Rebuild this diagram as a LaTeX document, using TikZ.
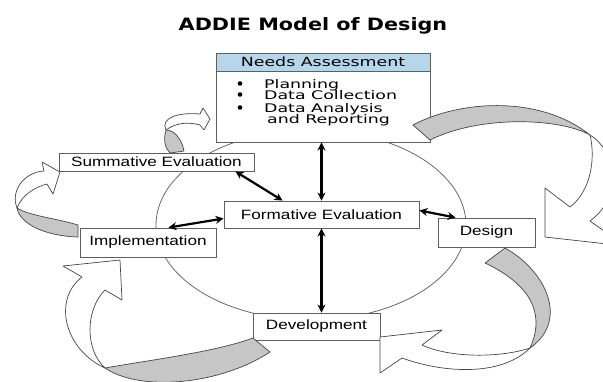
\documentclass[tikz,border=0pt]{standalone}
\usepackage{fontspec}
\usepackage{tikz}
\usetikzlibrary{arrows.meta, calc}
\newfontfamily\titlefont[FakeStretch=1.22]{DejaVu Sans}
\newfontfamily\needsfont[FakeStretch=1.38]{DejaVu Sans}
\newfontfamily\itemfont[FakeStretch=1.46]{DejaVu Sans}
\newfontfamily\stagefont[FakeStretch=1.27]{Liberation Sans}
\definecolor{boxline}{RGB}{95,95,95}
\definecolor{headblue}{RGB}{184,214,234}
\definecolor{foldgray}{RGB}{198,198,198}
\definecolor{edgegray}{RGB}{70,70,70}
\definecolor{ringgray}{RGB}{105,105,105}

\begin{document}
\begin{tikzpicture}[x=1pt, y=-1pt]
\tikzstyle{stage}=[draw=boxline, fill=white, line width=0.9pt, inner sep=0pt, font=\stagefont\fontsize{13.5}{16}\selectfont]
\tikzstyle{item}=[anchor=base west, inner sep=0pt, font=\itemfont\fontsize{11.9}{13}\selectfont]
\tikzstyle{link}=[{Stealth[length=8pt,width=8pt]}-{Stealth[length=8pt,width=8pt]}, line width=2.2pt]
\tikzstyle{fold}=[fill=foldgray, draw=edgegray, line width=0.7pt, line join=round]
\tikzstyle{face}=[fill=white, draw=edgegray, line width=0.7pt, line join=round]
\useasboundingbox (0,0) rectangle (603,381);
\clip (0,0) rectangle (603,381);

\node[font=\titlefont\bfseries\fontsize{17}{20}\selectfont] (title) at (313,26) {ADDIE Model of Design};

% cycle ring behind the stages
\draw[ringgray, line width=0.8pt] (311,225) ellipse [x radius=155pt, y radius=95pt];

% stages
\node[stage, minimum width=214pt, minimum height=89pt] (needs) at (323,97.5) {};
\node[stage, fill=headblue, minimum width=214pt, minimum height=18pt,
  font=\needsfont\fontsize{12.6}{14}\selectfont] (needshead) at (323,62) {Needs Assessment};
\foreach \y in {83.5,94.5,107.5} \fill (240,\y) circle [radius=2.3pt];
\node[item] (plan) at (264,88) {Planning};
\node[item] (collect) at (264,99) {Data Collection};
\node[item] (analysis) at (264,112) {Data Analysis};
\node[item] (report) at (267,123) {and Reporting};
\node[stage, minimum width=195pt, minimum height=18pt] (summative) at (156.5,162) {Summative Evaluation};
\node[stage, minimum width=195pt, minimum height=27pt] (formative) at (321.5,214.5) {Formative Evaluation};
\node[stage, minimum width=136pt, minimum height=29pt] (implementation) at (148,242.5) {Implementation};
\node[stage, minimum width=97pt, minimum height=29pt] (design) at (486.5,232.5) {Design};
\node[stage, minimum width=127pt, minimum height=27pt] (development) at (316.5,326.5) {Development};

% big curved arrows: grey fold at the tail, white face with the head
\draw[fold] (413,125) .. controls (460,100) and (540,95) .. (590,135)
  .. controls (560,118) and (480,115) .. (430,140) -- cycle;
\draw[face] (590,135) .. controls (615,150) and (625,195) .. (590,221) -- (625,246) -- (545,237)
  -- (545,188) -- (570,207) .. controls (590,192) and (596,160) .. (590,135) -- cycle;

\draw[fold] (505,248) .. controls (545,270) and (570,320) .. (530,348)
  .. controls (543,320) and (538,288) .. (485,263) -- cycle;
\draw[face] (530,348) .. controls (500,358) and (450,358) .. (422,345) -- (442,330) -- (380,337)
  -- (380,373) -- (402,358) .. controls (440,372) and (500,378) .. (530,348) -- cycle;

\draw[fold] (253,338) .. controls (215,352) and (150,360) .. (105,368)
  .. controls (140,392) and (220,385) .. (270,352) -- cycle;
\draw[face] (105,368) .. controls (65,350) and (52,300) .. (82,277) -- (63,266) -- (120,260)
  -- (122,300) -- (105,290) .. controls (85,310) and (85,350) .. (105,368) -- cycle;

\draw[fold] (78,225) .. controls (55,218) and (30,216) .. (17,208)
  .. controls (20,224) and (45,236) .. (78,237) -- cycle;
\draw[face] (17,208) .. controls (10,190) and (25,172) .. (44,171) -- (42,162) -- (60,172)
  -- (53,194) -- (47,184) .. controls (35,187) and (22,195) .. (17,208) -- cycle;

\draw[fold] (166,130) .. controls (163,140) and (165,148) .. (170,153) -- (184,151)
  .. controls (182,140) and (175,130) .. (166,130) -- cycle;
\draw[face] (166,130) .. controls (160,118) and (178,112) .. (200,114) -- (203,108) -- (210,119)
  -- (204,130) -- (200,125) .. controls (186,121) and (174,124) .. (166,130) -- cycle;

% two-way links to formative evaluation
\path[link] (formative.north |- needs.south) edge (formative.north)
  (formative.south) edge (formative.south |- development.north)
  ($(summative.south east)+(-19,0)$) edge ($(formative.north west)+(59,0)$)
  ($(implementation.north east)+(-48,0)$) edge ($(formative.west)+(0,4)$)
  ($(formative.east)+(0,-4)$) edge ($(design.north west)+(18,0)$);
\end{tikzpicture}
\end{document}
